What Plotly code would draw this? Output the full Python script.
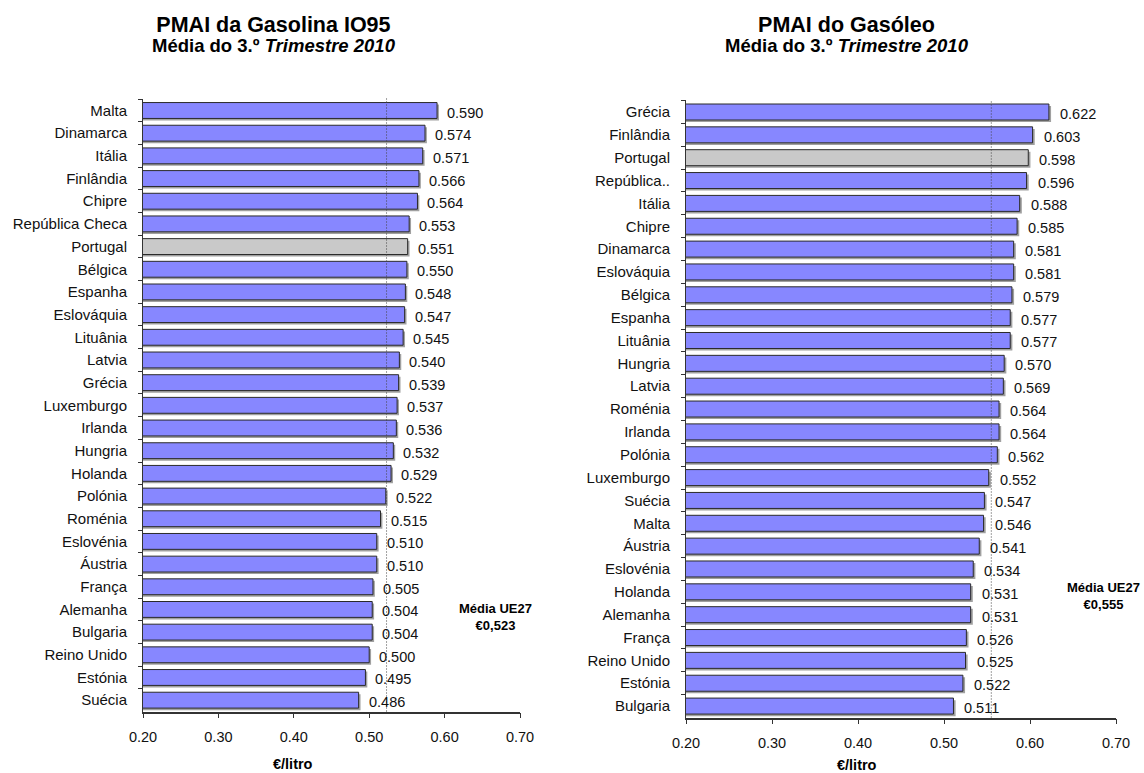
import plotly.graph_objects as go

# ---------------- data ----------------
gas_countries = ["Malta", "Dinamarca", "Itália", "Finlândia", "Chipre", "República Checa",
                 "Portugal", "Bélgica", "Espanha", "Eslováquia", "Lituânia", "Latvia", "Grécia",
                 "Luxemburgo", "Irlanda", "Hungria", "Holanda", "Polónia", "Roménia", "Eslovénia",
                 "Áustria", "França", "Alemanha", "Bulgaria", "Reino Unido", "Estónia", "Suécia"]
gas_values = [0.590, 0.574, 0.571, 0.566, 0.564, 0.553, 0.551, 0.550, 0.548, 0.547, 0.545,
              0.540, 0.539, 0.537, 0.536, 0.532, 0.529, 0.522, 0.515, 0.510, 0.510, 0.505,
              0.504, 0.504, 0.500, 0.495, 0.486]
gas_mean = 0.523

gso_countries = ["Grécia", "Finlândia", "Portugal", "República..", "Itália", "Chipre",
                 "Dinamarca", "Eslováquia", "Bélgica", "Espanha", "Lituânia", "Hungria", "Latvia",
                 "Roménia", "Irlanda", "Polónia", "Luxemburgo", "Suécia", "Malta", "Áustria",
                 "Eslovénia", "Holanda", "Alemanha", "França", "Reino Unido", "Estónia", "Bulgaria"]
gso_values = [0.622, 0.603, 0.598, 0.596, 0.588, 0.585, 0.581, 0.581, 0.579, 0.577, 0.577,
              0.570, 0.569, 0.564, 0.564, 0.562, 0.552, 0.547, 0.546, 0.541, 0.534, 0.531,
              0.531, 0.526, 0.525, 0.522, 0.511]
gso_mean = 0.555

x_ticks = [0.20, 0.30, 0.40, 0.50, 0.60, 0.70]
highlight = "Portugal"

titles = ["PMAI da Gasolina IO95", "PMAI do Gasóleo"]
subtitle = "Média do 3.º <i>Trimestre 2010</i>"
mean_label = "<b>Média UE27<br>€{:.3f}</b>"
x_title = "<b>€/litro</b>"

# ---------------- styling ----------------
W, H = 1144, 773
FONT = "Liberation Sans, Arial, sans-serif"
BLUE = "#8787FF"
GREY = "#C9C9C9"
EDGE = "#2a2a2a"
SHADOW = "#a0a0a0"
BAR_W = 0.70


def px(x):
    return x / W


def py(y):
    return 1 - y / H


panels = [
    dict(countries=gas_countries, values=gas_values, mean=gas_mean, xa="x", ya="y",
         xdom=[px(143), px(520)], ydom=[py(711.5), py(98.5)], title_x=274, label_x=293,
         label_y=764, mean_x=495, mean_y=617, val_shift=9),
    dict(countries=gso_countries, values=gso_values, mean=gso_mean, xa="x2", ya="y2",
         xdom=[px(686), px(1116)], ydom=[py(717.5), py(100)], title_x=847, label_x=857,
         label_y=765, mean_x=1103, mean_y=596, val_shift=10),
]

fig = go.Figure()
annotations = []
shapes = []

for i, p in enumerate(panels):
    colors = [GREY if c == highlight else BLUE for c in p["countries"]]
    # drop shadow
    fig.add_trace(go.Bar(
        y=p["countries"], x=[v + 0.0025 for v in p["values"]], orientation="h",
        marker=dict(color=SHADOW, line=dict(width=0)), width=BAR_W,
        offset=-BAR_W / 2 + 0.09, xaxis=p["xa"], yaxis=p["ya"], hoverinfo="skip",
        showlegend=False))
    fig.add_trace(go.Bar(
        y=p["countries"], x=p["values"], orientation="h",
        marker=dict(color=colors, line=dict(color=EDGE, width=1)), width=BAR_W,
        offset=-BAR_W / 2, xaxis=p["xa"], yaxis=p["ya"], showlegend=False))

    for c, v in zip(p["countries"], p["values"]):
        annotations.append(dict(
            x=v, y=c, xref=p["xa"], yref=p["ya"], text=f"{v:.3f}", showarrow=False,
            xanchor="left", yanchor="middle", xshift=p["val_shift"] - 1, yshift=-2,
            font=dict(family=FONT, size=14.5, color="#111111")))

    shapes.append(dict(type="line", xref=p["xa"], yref=p["ya"] + " domain",
                       x0=p["mean"], x1=p["mean"], y0=0, y1=1,
                       line=dict(color="#444444", width=1, dash="1px,2px")))

    head = (f"<b><span style='font-size:21.5px'>{titles[i]}</span></b><br>"
            f"<b><span style='font-size:18.5px'>{subtitle}</span></b>")
    annotations.append(dict(x=px(p["title_x"]), y=py(34), xref="paper", yref="paper",
                            text=head, showarrow=False, xanchor="center", yanchor="middle",
                            align="center",
                            font=dict(family=FONT, size=15.5, color="#000000")))
    annotations.append(dict(x=px(p["label_x"]), y=py(p["label_y"]), xref="paper", yref="paper",
                            text=x_title, showarrow=False, xanchor="center", yanchor="middle",
                            font=dict(family=FONT, size=14.5, color="#000000")))
    annotations.append(dict(x=px(p["mean_x"]), y=py(p["mean_y"]), xref="paper", yref="paper",
                            text=mean_label.format(p["mean"]).replace(".", ","),
                            showarrow=False, xanchor="center", yanchor="middle",
                            font=dict(family=FONT, size=13, color="#000000")))

    axis_x = dict(domain=p["xdom"], range=[0.2, 0.7], tickvals=x_ticks,
                  ticktext=[f"{t:.2f}" for t in x_ticks], ticks="outside", ticklen=5,
                  tickcolor="#333333", showline=True, linecolor="#333333", linewidth=1.5,
                  showgrid=False, zeroline=False, anchor=p["ya"], automargin=False,
                  ticklabelstandoff=6,
                  tickfont=dict(family=FONT, size=14.5, color="#111111"), fixedrange=True)
    axis_y = dict(domain=p["ydom"], type="category", autorange="reversed", ticks="outside",
                  tickson="boundaries", ticklen=4, tickcolor="#333333", showline=True,
                  linecolor="#333333", linewidth=1, showgrid=False, zeroline=False,
                  anchor=p["xa"], automargin=False, ticklabelstandoff=12,
                  tickfont=dict(family=FONT, size=15, color="#111111"), fixedrange=True)
    if i == 0:
        fig.update_layout(xaxis=axis_x, yaxis=axis_y)
    else:
        fig.update_layout(xaxis2=axis_x, yaxis2=axis_y)

fig.update_layout(
    width=W, height=H, margin=dict(l=0, r=0, t=0, b=0, autoexpand=False),
    paper_bgcolor="white", plot_bgcolor="white", barmode="overlay",
    annotations=annotations, shapes=shapes, font=dict(family=FONT),
)

fig.write_html("out.html", config={"displayModeBar": False},
               post_script="document.body.style.margin='0';document.body.style.overflow='hidden';")
